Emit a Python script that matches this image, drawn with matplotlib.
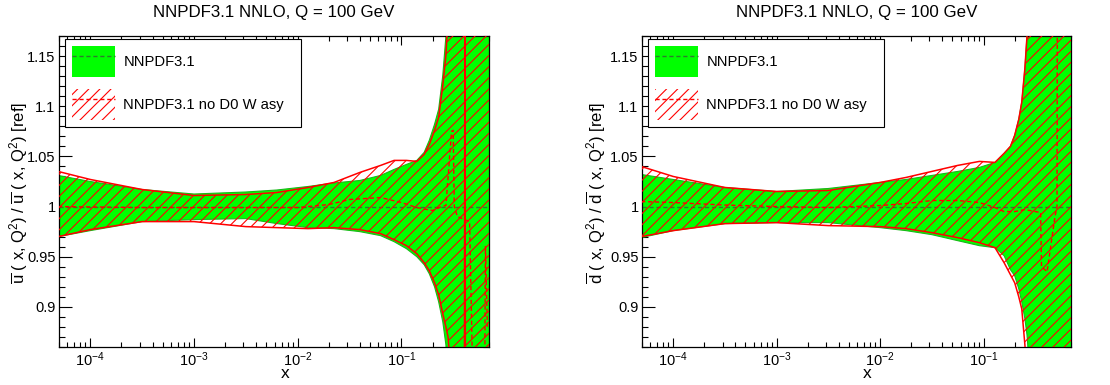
import numpy as np
import matplotlib
matplotlib.use('Agg')
import matplotlib.pyplot as plt
from matplotlib.ticker import MultipleLocator, FuncFormatter, LogLocator
from matplotlib.patches import Patch
from matplotlib.lines import Line2D
from matplotlib.legend_handler import HandlerTuple

plt.rcParams['font.family'] = ['Liberation Sans', 'DejaVu Sans']
plt.rcParams['mathtext.fontset'] = 'custom'
plt.rcParams['mathtext.rm'] = 'Liberation Sans'
plt.rcParams['mathtext.it'] = 'Liberation Sans:italic'
plt.rcParams['mathtext.bf'] = 'Liberation Sans:bold'
plt.rcParams['hatch.linewidth'] = 0.8

#-----------------------------------------------------------------------
# data
#-----------------------------------------------------------------------
title = 'NNPDF3.1 NNLO, Q = 100 GeV'
labels = ['NNPDF3.1', 'NNPDF3.1 no D0 W asy']
ref_central = 1.0

# ubar panel
x_u = [4.9e-5, 1e-4, 3.16e-4, 1e-3, 3.16e-3, 6.31e-3, 1.26e-2, 2.24e-2, 3.98e-2,
       6.31e-2, 8.51e-2, 0.112, 0.141, 0.166, 0.186, 0.209, 0.229, 0.251, 0.269,
       0.282, 0.295, 0.309, 0.405, 0.410, 0.415, 0.708]
u_ref_up = [1.031, 1.025, 1.017, 1.0125, 1.0145, 1.0165, 1.020, 1.0235, 1.026,
            1.031, 1.037, 1.042, 1.046, 1.054, 1.066, 1.082, 1.097, 1.131, 1.17,
            1.25, 1.25, 1.25, 1.25, 1.25, 1.25, 1.25]
u_ref_lo = [0.970, 0.976, 0.985, 0.987, 0.988, 0.983, 0.979, 0.978, 0.975,
            0.971, 0.965, 0.958, 0.950, 0.942, 0.933, 0.920, 0.905, 0.885, 0.862,
            0.80, 0.75, 0.75, 0.75, 0.75, 0.75, 0.75]
u_new_up = [1.035, 1.027, 1.017, 1.011, 1.012, 1.014, 1.019, 1.024, 1.034,
            1.041, 1.046, 1.046, 1.045, 1.052, 1.062, 1.076, 1.089, 1.121, 1.151,
            1.19, 1.25, 1.25, 1.25, 1.25, 1.25, 1.25]
u_new_lo = [0.970, 0.977, 0.985, 0.985, 0.980, 0.979, 0.978, 0.979, 0.977,
            0.973, 0.967, 0.961, 0.953, 0.944, 0.936, 0.924, 0.912, 0.893, 0.880,
            0.870, 0.845, 0.75, 0.75, 1.25, 0.75, 0.75]
xc_u = [4.9e-5, 3.16e-4, 0.01, 0.02, 0.0316, 0.0631, 0.1, 0.141, 0.2, 0.244,
        0.269, 0.305, 0.316, 0.324, 0.347, 0.455, 0.494, 0.634, 0.647, 0.675]
u_new_c = [1.000, 0.999, 0.999, 1.002, 1.007, 1.009, 1.004, 0.999, 0.996, 1.0,
           1.001, 1.075, 1.076, 1.0, 0.99, 0.985, 0.80, 0.80, 0.96, 0.88]

# dbar panel
x_d = [4.9e-5, 1e-4, 3.16e-4, 1e-3, 3.16e-3, 1e-2, 1.78e-2, 3.16e-2, 5.62e-2,
       9.12e-2, 0.129, 0.158, 0.182, 0.200, 0.219, 0.234, 0.251, 0.263, 0.275, 0.708]
d_ref_up = [1.032, 1.027, 1.019, 1.015, 1.018, 1.024, 1.027, 1.031, 1.035,
            1.039, 1.044, 1.053, 1.060, 1.071, 1.087, 1.104, 1.138, 1.17, 1.25, 1.25]
d_ref_lo = [0.969, 0.976, 0.983, 0.984, 0.984, 0.979, 0.976, 0.972, 0.966,
            0.961, 0.959, 0.951, 0.937, 0.931, 0.918, 0.905, 0.888, 0.872, 0.845, 0.75]
d_new_up = [1.040, 1.030, 1.019, 1.015, 1.016, 1.024, 1.029, 1.035, 1.041,
            1.045, 1.044, 1.053, 1.060, 1.071, 1.087, 1.104, 1.138, 1.17, 1.25, 1.25]
d_new_lo = [0.970, 0.976, 0.983, 0.984, 0.981, 0.980, 0.978, 0.974, 0.969,
            0.964, 0.959, 0.944, 0.932, 0.924, 0.910, 0.898, 0.862, 0.83, 0.80, 0.75]
xc_d = [4.9e-5, 1e-4, 3.16e-4, 1e-3, 3.16e-3, 0.01, 0.0178, 0.0316, 0.0562,
        0.0912, 0.129, 0.158, 0.2, 0.251, 0.316, 0.356, 0.363, 0.411, 0.490,
        0.513, 0.518, 0.708]
d_new_c = [1.005, 1.004, 1.0015, 1.000, 0.999, 1.001, 1.003, 1.006, 1.006,
           1.004, 0.999, 0.995, 0.995, 0.997, 0.995, 0.994, 0.94, 0.935, 0.99,
           1.0, 1.3, 1.3]

#-----------------------------------------------------------------------
# styles
#-----------------------------------------------------------------------
green = '#00ff00'
green_edge = '#18b818'
green_dash = '#2f7a2f'
red = '#ff0000'
dash = (0, (3, 2))


def draw_panel(ax, x, ref_up, ref_lo, new_up, new_lo, xc, new_c, ylabel, ylab_x, xlab_x):
    ax.fill_between(x, ref_lo, ref_up, facecolor=green, edgecolor='none', zorder=1)
    ax.plot(x, ref_up, color=green_edge, lw=0.8, zorder=1.5)
    ax.plot(x, ref_lo, color=green_edge, lw=0.8, zorder=1.5)
    ax.axhline(ref_central, color=green_dash, lw=1.0, ls=dash, zorder=2)
    ax.fill_between(x, new_lo, new_up, facecolor='none', edgecolor=red,
                    hatch='///', linewidth=0, zorder=3)
    ax.plot(x, new_up, color=red, lw=1.1, zorder=4)
    ax.plot(x, new_lo, color=red, lw=1.1, zorder=4)
    ax.plot(xc, new_c, color=red, lw=1.0, ls=dash, zorder=4)

    ax.set_xscale('log')
    ax.set_xlim(5e-5, 0.7)
    ax.set_ylim(0.86, 1.17)
    ax.set_axisbelow(True)
    ax.yaxis.set_major_locator(MultipleLocator(0.05))
    ax.yaxis.set_minor_locator(MultipleLocator(0.01))
    ax.yaxis.set_major_formatter(FuncFormatter(lambda v, p: '%g' % round(v, 3)))
    ax.xaxis.set_minor_locator(LogLocator(base=10, subs=np.arange(2, 10), numticks=20))
    ax.tick_params(which='both', direction='in', top=True, right=True,
                   labelsize=10.5, width=0.8)
    ax.tick_params(axis='y', which='major', length=9.3, pad=2.5)
    ax.tick_params(axis='y', which='minor', length=4.6)
    ax.tick_params(axis='x', which='major', length=6.7, pad=2.5)
    ax.tick_params(axis='x', which='minor', length=3.4)
    for s in ax.spines.values():
        s.set_linewidth(0.9)

    ax.set_title(title, fontsize=12.2, pad=13.5)
    ax.set_ylabel(ylabel, fontsize=12)
    ax.yaxis.set_label_coords(ylab_x, 0.494)
    ax.yaxis.label.set_va('center')
    ax.set_xlabel('x', fontsize=12.5)
    ax.xaxis.set_label_coords(xlab_x, -0.100)
    ax.xaxis.label.set_va('baseline')

    h1 = (Patch(facecolor=green, edgecolor='none'),
          Line2D([], [], color=green_dash, lw=1.0, ls=dash))
    h2 = (Patch(facecolor='none', edgecolor=red, hatch='///', linewidth=0),
          Line2D([], [], color=red, lw=1.0, ls=dash))
    leg = ax.legend([h1, h2], labels,
                    handler_map={tuple: HandlerTuple(ndivide=1, pad=0)},
                    loc='upper left', bbox_to_anchor=(0.014, 0.71, 0.549, 0.28),
                    mode='expand', borderaxespad=0, fancybox=False,
                    edgecolor='black', framealpha=1, fontsize=10.6,
                    handlelength=2.93, handleheight=2.87, labelspacing=0.8,
                    borderpad=0.48, handletextpad=0.55)
    leg.get_frame().set_linewidth(0.8)


fig = plt.figure(figsize=(11.1, 3.85), dpi=100)
ax1 = fig.add_axes([59 / 1110, 38 / 385, 430 / 1110, 311 / 385])
ax2 = fig.add_axes([642 / 1110, 38 / 385, 429 / 1110, 311 / 385])

draw_panel(ax1, x_u, u_ref_up, u_ref_lo, u_new_up, u_new_lo, xc_u, u_new_c,
           r'$\overline{\mathrm{u}}$ ( x, Q$^{2}$) / $\overline{\mathrm{u}}$ ( x, Q$^{2}$) [ref]',
           -0.095, 0.526)
draw_panel(ax2, x_d, d_ref_up, d_ref_lo, d_new_up, d_new_lo, xc_d, d_new_c,
           r'$\overline{\mathrm{d}}$ ( x, Q$^{2}$) / $\overline{\mathrm{d}}$ ( x, Q$^{2}$) [ref]',
           -0.106, 0.524)

fig.savefig('out.png', dpi=100)
